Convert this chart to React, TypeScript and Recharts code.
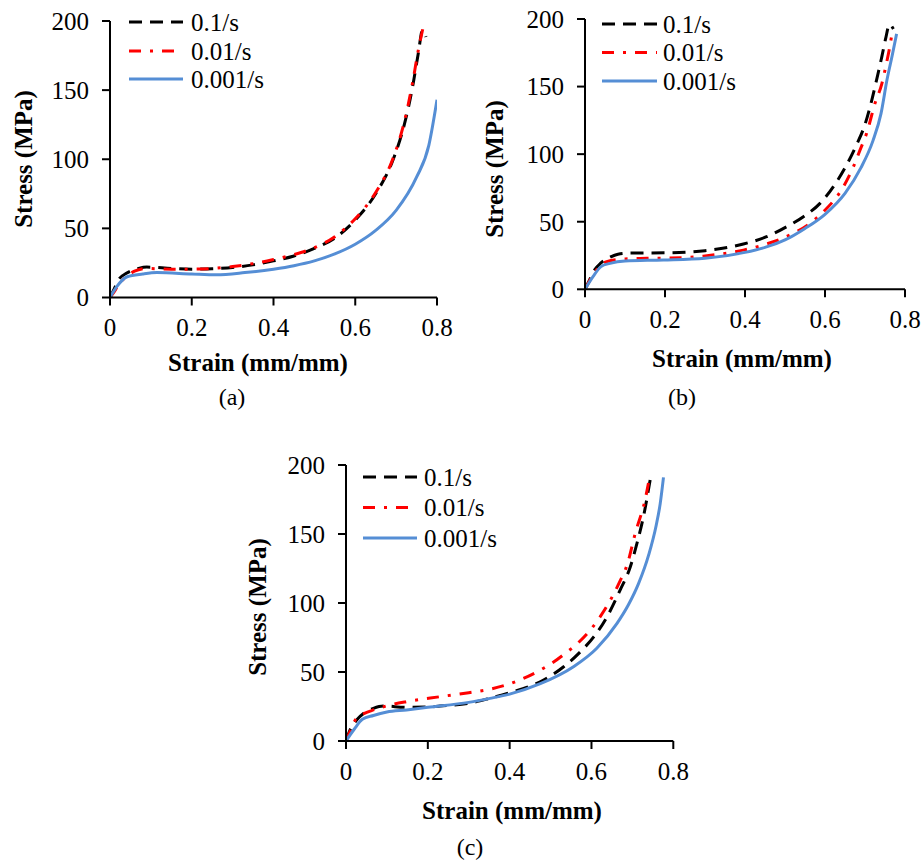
import React from 'react';
import { LineChart, Line, XAxis, YAxis } from 'recharts';

type Pair = [number, number];

const strainTicks = [0, 0.2, 0.4, 0.6, 0.8];
const stressTicks = [0, 50, 100, 150, 200];
const seriesNames = ['0.1/s', '0.01/s', '0.001/s'];
const panelCaptions = ['(a)', '(b)', '(c)'];
const xTitle = 'Strain (mm/mm)';
const yTitle = 'Stress (MPa)';

// Panel (a)
const aFast: Pair[] = [[0, 0], [0.01, 6], [0.02, 12.5], [0.04, 17.5], [0.07, 21], [0.09, 22], [0.15, 21], [0.2, 20.5], [0.25, 20.8], [0.3, 21.7], [0.35, 23.6], [0.4, 26.5], [0.45, 30], [0.5, 35.5], [0.55, 43], [0.6, 56], [0.65, 75], [0.693, 100], [0.72, 125], [0.74, 152], [0.755, 178], [0.764, 193], [0.773, 188.5]];
const aMid: Pair[] = [[0, 0], [0.01, 4], [0.02, 9], [0.04, 15], [0.06, 19], [0.09, 21], [0.15, 20.5], [0.2, 20.5], [0.25, 21], [0.3, 22.4], [0.35, 24.5], [0.4, 27.5], [0.45, 31], [0.5, 36], [0.55, 44], [0.6, 57], [0.65, 76], [0.693, 101], [0.72, 127], [0.74, 155], [0.755, 180], [0.765, 194]];
const aSlow: Pair[] = [[0, 0], [0.017, 8], [0.042, 15], [0.08, 17], [0.115, 18], [0.2, 17], [0.26, 16.4], [0.33, 18], [0.4, 20.5], [0.45, 23], [0.5, 26.5], [0.55, 31.5], [0.6, 38.5], [0.65, 48.5], [0.7, 63], [0.75, 87], [0.78, 110], [0.8, 143]];

// Panel (b)
const bFast: Pair[] = [[0, 0], [0.01, 6], [0.021, 13], [0.04, 19.5], [0.0625, 23.7], [0.0825, 26], [0.1125, 26.8], [0.2, 27], [0.3, 28.6], [0.396, 33.5], [0.454, 38.9], [0.504, 46.3], [0.546, 53.7], [0.5875, 63.6], [0.621, 76], [0.654, 92], [0.679, 107], [0.7, 122], [0.717, 140], [0.729, 155], [0.742, 172], [0.752, 186], [0.761, 196], [0.771, 192.6]];
const bMid: Pair[] = [[0, 0], [0.02, 10.6], [0.04, 18], [0.054, 20.4], [0.1, 22.5], [0.154, 22.9], [0.25, 23.4], [0.3, 24.7], [0.396, 29], [0.446, 32.8], [0.5, 38.5], [0.5625, 48.8], [0.596, 57.4], [0.646, 75.9], [0.671, 90.7], [0.6875, 103], [0.704, 115.4], [0.725, 137.6], [0.742, 152], [0.752, 165], [0.761, 178], [0.769, 192]];
const bSlow: Pair[] = [[0, 0], [0.02, 9.4], [0.04, 16.8], [0.0625, 19.2], [0.1, 21], [0.196, 21.7], [0.3, 23], [0.4, 27.3], [0.45, 31], [0.5, 36.5], [0.55, 45], [0.6, 55.5], [0.65, 71], [0.69, 90], [0.72, 110], [0.74, 130], [0.755, 155], [0.768, 173], [0.779, 189]];

// Panel (c)
const cFast: Pair[] = [[0, 0], [0.01, 8], [0.026, 15.2], [0.045, 20.5], [0.067, 23.7], [0.091, 25.4], [0.148, 24.4], [0.2, 24.6], [0.23, 25.4], [0.3, 27.3], [0.352, 31], [0.4, 35], [0.483, 44.2], [0.532, 53.8], [0.573, 64.7], [0.606, 75.6], [0.638, 90], [0.67, 109.4], [0.695, 126.3], [0.711, 143], [0.727, 162.5], [0.745, 192]];
const cMid: Pair[] = [[0, 0], [0.01, 7], [0.026, 16.7], [0.045, 20], [0.067, 22.5], [0.1, 25.5], [0.148, 28.5], [0.23, 32.1], [0.3, 35], [0.352, 37.5], [0.425, 44.2], [0.475, 51.4], [0.503, 56.3], [0.536, 63.5], [0.568, 71.3], [0.597, 80.4], [0.621, 90], [0.646, 102], [0.67, 116], [0.687, 127.5], [0.707, 150.5], [0.732, 176], [0.74, 188]];
const cSlow: Pair[] = [[0, 0], [0.02, 8.5], [0.04, 15.7], [0.067, 18.5], [0.1, 21], [0.148, 22.5], [0.2, 24.4], [0.3, 28], [0.352, 30.9], [0.4, 34], [0.475, 41.5], [0.556, 53.8], [0.613, 67.2], [0.662, 85], [0.69, 98.5], [0.715, 114], [0.74, 135], [0.758, 156], [0.768, 172], [0.776, 191]];

const panelSeries: Pair[][][] = [
  [aFast, aMid, aSlow],
  [bFast, bMid, bSlow],
  [cFast, cMid, cSlow],
];

const FONT = "'Times New Roman', 'Liberation Serif', Tinos, 'DejaVu Serif', serif";
const lineStyles = [
  { stroke: '#000000', dash: '13 8' },
  { stroke: '#FF0000', dash: '12 9 3 9' },
  { stroke: '#558ED5', dash: undefined as string | undefined },
];

const layouts = [
  {
    left: 0, top: 0, width: 460, height: 420,
    margin: { top: 21, right: 23, left: 50, bottom: 72.5 },
    yTitle: [23, 159], xTitle: [258, 362], caption: [232, 397],
    legendX: [129, 183, 191], legendY: [22, 51, 79],
  },
  {
    left: 460, top: 0, width: 462, height: 420,
    margin: { top: 19, right: 17, left: 65, bottom: 80.7 },
    yTitle: [494, 169], xTitle: [742, 358], caption: [682, 397],
    legendX: [602, 657, 663], legendY: [24, 52.5, 81],
  },
  {
    left: 230, top: 440, width: 460, height: 420,
    margin: { top: 25, right: 16.7, left: 56, bottom: 69 },
    yTitle: [257, 607], xTitle: [512, 810], caption: [470, 847],
    legendX: [363, 417, 424], legendY: [477, 507.5, 538],
  },
];

const toPts = (p: Pair[]) => p.map(([x, y]) => ({ x, y }));

const tickStyle = { fill: '#000', fontSize: 25, fontFamily: FONT };
const axisStroke = { stroke: '#000', strokeWidth: 2 };

function Panel({ idx }: { idx: number }) {
  const L = layouts[idx];
  return (
    <div style={{ position: 'absolute', left: L.left, top: L.top, width: L.width, height: L.height }}>
      <LineChart width={L.width} height={L.height} margin={L.margin}>
        <XAxis
          type="number"
          dataKey="x"
          domain={[0, 0.8]}
          ticks={strainTicks}
          interval={0}
          allowDataOverflow
          tickFormatter={(v: number) => String(v)}
          height={50}
          tickSize={8}
          tickMargin={13}
          axisLine={axisStroke}
          tickLine={axisStroke}
          tick={tickStyle}
        />
        <YAxis
          type="number"
          domain={[0, 200]}
          ticks={stressTicks}
          interval={0}
          allowDataOverflow
          width={60}
          tickSize={8}
          tickMargin={13}
          axisLine={axisStroke}
          tickLine={axisStroke}
          tick={tickStyle}
        />
        {panelSeries[idx].map((s, i) => (
          <Line
            key={i}
            data={toPts(s)}
            dataKey="y"
            name={seriesNames[i]}
            type="monotone"
            dot={false}
            activeDot={false}
            stroke={lineStyles[i].stroke}
            strokeWidth={3}
            strokeDasharray={lineStyles[i].dash}
            isAnimationActive={false}
          />
        ))}
      </LineChart>
    </div>
  );
}

export default function App() {
  return (
    <div style={{ position: 'absolute', left: 0, top: 0, width: 922, height: 860, background: '#fff', fontFamily: FONT }}>
      {layouts.map((_, i) => <Panel key={i} idx={i} />)}
      <svg width={922} height={860} style={{ position: 'absolute', left: 0, top: 0, pointerEvents: 'none', fontFamily: FONT }}>
        {layouts.map((L, p) => (
          <g key={p} fill="#000">
            <text
              x={L.yTitle[0]} y={L.yTitle[1]}
              textAnchor="middle" dominantBaseline="central"
              fontSize={25} fontWeight="bold" style={{ fontFamily: FONT }}
              transform={`rotate(-90 ${L.yTitle[0]} ${L.yTitle[1]})`}
            >{yTitle}</text>
            <text x={L.xTitle[0]} y={L.xTitle[1]} textAnchor="middle" dominantBaseline="central" fontSize={25} fontWeight="bold" style={{ fontFamily: FONT }}>{xTitle}</text>
            <text x={L.caption[0]} y={L.caption[1]} textAnchor="middle" dominantBaseline="central" fontSize={24} style={{ fontFamily: FONT }}>{panelCaptions[p]}</text>
            {seriesNames.map((name, i) => (
              <g key={i}>
                <line
                  x1={L.legendX[0]} x2={L.legendX[1]} y1={L.legendY[i]} y2={L.legendY[i]}
                  stroke={lineStyles[i].stroke} strokeWidth={3} strokeDasharray={lineStyles[i].dash}
                />
                <text x={L.legendX[2]} y={L.legendY[i]} dominantBaseline="central" fontSize={25} style={{ fontFamily: FONT }}>{name}</text>
              </g>
            ))}
          </g>
        ))}
      </svg>
    </div>
  );
}
